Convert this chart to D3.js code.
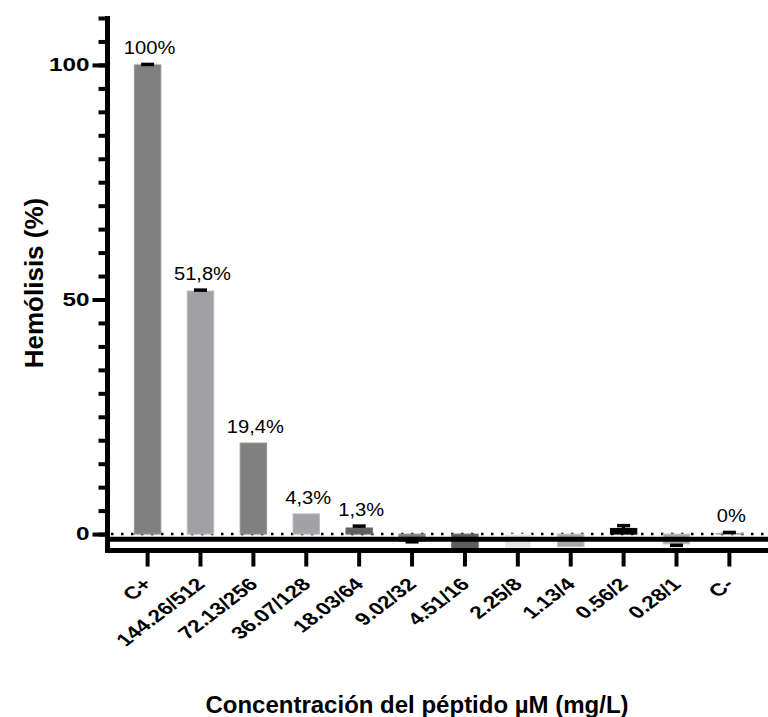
<!DOCTYPE html>
<meta charset="utf-8">
<style>
body {
  margin: 0;
  background: #ffffff;
}
svg {
  display: block;
}
text {
  font-family: 'Liberation Sans', Arial, sans-serif;
  fill: #000000;
}
.tick-label {
  font-size: 18px;
  font-weight: 700;
}
.cat-label {
  font-size: 17.5px;
  font-weight: 700;
}
.pct {
  font-size: 17.5px;
}
.axis-title {
  font-size: 24px;
  font-weight: 700;
}
.y-title {
  font-size: 26px;
  font-weight: 700;
}
</style>
<body>
<svg width="768" height="717"></svg>

<script src="https://cdnjs.cloudflare.com/ajax/libs/d3/7.8.5/d3.min.js"></script>
<script>

    const categories = ['C+', '144.26/512', '72.13/256', '36.07/128', '18.03/64', '9.02/32',
      '4.51/16', '2.25/8', '1.13/4', '0.56/2', '0.28/1', 'C-'];
    const values = [100, 51.8, 19.4, 4.3, 1.3, -1.5, -3.4, -3.0, -2.7, 1.2, -2.1, 0.15];
    const errors = [0.1, 0.2, 0, 0, 0.4, 0.15, 0, 0, 0, 0.6, 0.3, 0.2];
    const barColors = ['#808080', '#a0a0a4', '#808080', '#a2a2a6', '#5f5f5f', '#808080',
      '#5f5f5f', '#e6e6e6', '#a8a8a8', '#000000', '#a8a8a8', '#8c8c8c'];
    const labels = ['100%', '51,8%', '19,4%', '4,3%', '1,3%', '', '', '', '', '', '', '0%'];
    const majorTicks = [0, 50, 100];

    const dane = categories.map((c, i) => ({
      cat: c, value: values[i], err: errors[i], color: barColors[i], label: labels[i]
    }));

    // widen text horizontally, the reference glyphs look stretched
    const stretch = (sel, k) => sel.each(function () {
      const w = this.getComputedTextLength();
      d3.select(this).attr('textLength', w * k).attr('lengthAdjust', 'spacingAndGlyphs');
    });

    const svg = d3.select('svg');

    const plotLeft = 109, plotRight = 768, plotTop = 18, plotBottom = 550.5;

    const x = d3.scaleBand()
      .domain(categories)
      .range([plotLeft, plotRight])
      .paddingInner(0.5)
      .paddingOuter(0.48);

    const y = d3.scaleLinear()
      .domain([-3.5, 110])
      .range([plotBottom, plotTop]);

    // dotted zero line behind the bars
    svg.append('line')
      .attr('x1', plotLeft + 2).attr('x2', plotRight)
      .attr('y1', y(0)).attr('y2', y(0))
      .attr('stroke', '#000')
      .attr('stroke-width', 2.5)
      .attr('stroke-dasharray', '2.5 7.5');

    const barGroups = svg.selectAll('.bar')
      .data(dane)
      .enter()
      .append('g')
      .attr('class', 'bar');

    barGroups.append('rect')
      .attr('x', d => x(d.cat))
      .attr('y', d => y(Math.max(0, d.value)))
      .attr('width', x.bandwidth())
      .attr('height', d => Math.abs(y(d.value) - y(0)))
      .attr('fill', d => d.color)
      .attr('stroke', d => d3.color(d.color).brighter(0.4))
      .attr('stroke-width', 1);

    // error bars (one-sided, away from zero)
    const withErr = barGroups.filter(d => d.err > 0);
    const capW = 13;
    withErr.append('line')
      .attr('x1', d => x(d.cat) + x.bandwidth() / 2)
      .attr('x2', d => x(d.cat) + x.bandwidth() / 2)
      .attr('y1', d => y(d.value))
      .attr('y2', d => y(d.value + Math.sign(d.value) * d.err))
      .attr('stroke', '#000')
      .attr('stroke-width', 3);
    withErr.append('line')
      .attr('x1', d => x(d.cat) + x.bandwidth() / 2 - capW / 2)
      .attr('x2', d => x(d.cat) + x.bandwidth() / 2 + capW / 2)
      .attr('y1', d => y(d.value + Math.sign(d.value) * d.err))
      .attr('y2', d => y(d.value + Math.sign(d.value) * d.err))
      .attr('stroke', '#000')
      .attr('stroke-width', 3.5);

    // value labels
    barGroups.filter(d => d.label)
      .append('text')
      .attr('class', 'pct')
      .attr('x', d => x(d.cat) + x.bandwidth() / 2 + 2)
      .attr('y', d => y(d.value + d.err) - 10)
      .attr('text-anchor', 'middle')
      .text(d => d.label)
      .call(stretch, 1.15);

    // thick line just under zero
    svg.append('line')
      .attr('x1', plotLeft).attr('x2', plotRight)
      .attr('y1', y(-1.1)).attr('y2', y(-1.1))
      .attr('stroke', '#000')
      .attr('stroke-width', 5);

    // x axis
    const xAxis = svg.append('g')
      .attr('transform', `translate(0, ${plotBottom})`)
      .call(d3.axisBottom(x).tickSize(16).tickSizeOuter(0).tickFormat(''));
    xAxis.select('.domain').remove();
    xAxis.selectAll('.tick line').attr('stroke', '#000').attr('stroke-width', 4);
    svg.append('line')
      .attr('x1', plotLeft - 4).attr('x2', plotRight)
      .attr('y1', plotBottom).attr('y2', plotBottom)
      .attr('stroke', '#000')
      .attr('stroke-width', 5);

    svg.selectAll('.cat-label')
      .data(categories)
      .enter()
      .append('text')
      .attr('class', 'cat-label')
      .attr('text-anchor', 'end')
      .attr('dy', '0.35em')
      .attr('transform', d => `translate(${x(d) + x.bandwidth() / 2}, 581) scale(1.3, 1) rotate(-45)`)
      .text(d => d);

    // y axis: minor + major ticks
    const minor = svg.append('g')
      .attr('transform', `translate(${plotLeft - 1.5}, 0)`)
      .call(d3.axisLeft(y).tickValues(d3.range(0, 111, 5)).tickSize(9).tickFormat(''));
    minor.select('.domain').remove();
    minor.selectAll('.tick line').attr('stroke', '#000').attr('stroke-width', 4);

    const major = svg.append('g')
      .attr('transform', `translate(${plotLeft - 1.5}, 0)`)
      .call(d3.axisLeft(y).tickValues(majorTicks).tickSize(15).tickPadding(3));
    major.attr('font-family', null).attr('font-size', null);
    major.select('.domain').remove();
    major.selectAll('.tick line').attr('stroke', '#000').attr('stroke-width', 4);
    major.selectAll('.tick text')
      .attr('class', 'tick-label')
      .call(stretch, 1.35);

    svg.append('line')
      .attr('x1', plotLeft - 1.5).attr('x2', plotLeft - 1.5)
      .attr('y1', plotTop - 2).attr('y2', plotBottom + 2.5)
      .attr('stroke', '#000')
      .attr('stroke-width', 5);

    // axis titles
    svg.append('text')
      .attr('class', 'axis-title')
      .attr('text-anchor', 'middle')
      .attr('x', 417)
      .attr('y', 713)
      .text('Concentración del péptido µM (mg/L)');

    svg.append('text')
      .attr('class', 'y-title')
      .attr('text-anchor', 'middle')
      .attr('transform', 'translate(34, 283) rotate(-90)')
      .attr('dy', '0.35em')
      .text('Hemólisis (%)');

</script>
</body>
